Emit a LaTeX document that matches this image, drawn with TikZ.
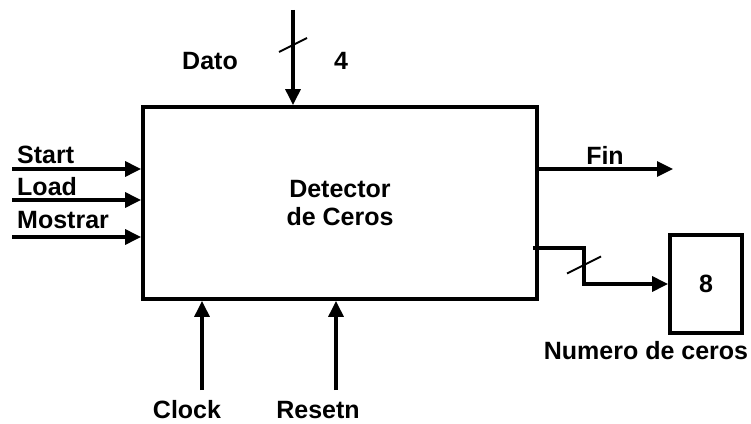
\documentclass[tikz,border=0pt]{standalone}
\usepackage{fontspec}
\setmainfont{Liberation Sans}
\usetikzlibrary{arrows.meta}

\begin{document}
\begin{tikzpicture}[x=1pt, y=1pt, line join=miter, >={Triangle[length=16pt,width=15pt]},
    wire/.style={line width=3.2pt},
    tick/.style={line width=1.8pt},
    lbl/.style={font=\bfseries\fontsize{25}{28}\selectfont, inner sep=0pt},
    blk/.style={draw, line width=3.8pt, inner sep=0pt}]
    \useasboundingbox (0,0) rectangle (751,423);

    % main block
    \node[blk, lbl, align=center, minimum width=394pt, minimum height=192pt] (det) at (340,220) {Detector\\de Ceros};

    % data input (4 bits)
    \coordinate (dato) at (293,413);
    \coordinate (datosl) at (293,378);
    \draw[wire, ->] (dato) -- (dato |- det.north);
    \draw[tick] (datosl) ++(-14,-7) -- ++(28,14);
    \node[lbl] (datolbl) at (210,362) {Dato};
    \node[lbl] (datoan) at (341,362) {4};

    % control inputs
    \coordinate (start) at (12,254);
    \coordinate (load) at (12,223);
    \coordinate (mostrar) at (12,186);
    \draw[wire, ->] (start) -- (start -| det.west);
    \draw[wire, ->] (load) -- (load -| det.west);
    \draw[wire, ->] (mostrar) -- (mostrar -| det.west);
    \node[lbl, anchor=west] (startlbl) at (17,268) {Start};
    \node[lbl, anchor=west] (loadlbl) at (17,236) {Load};
    \node[lbl, anchor=west] (mostrarlbl) at (17,203) {Mostrar};

    % outputs
    \coordinate (fin) at (673,254);
    \draw[wire, <-] (fin) -- (fin -| det.east);
    \node[lbl] (finlbl) at (605,268) {Fin};

    \node[blk, lbl, minimum width=72pt, minimum height=98pt] (cnt) at (706,139) {8};
    \node[lbl] (cntlbl) at (646,72) {Numero de ceros};
    \coordinate (cnt0) at (533,175);
    \coordinate (bend) at (584,175);
    \coordinate (cntsl) at (584,158);
    \draw[wire, ->] (cnt0) -- (bend) |- (cnt.west);
    \draw[tick] (cntsl) ++(-17,-8.5) -- ++(34,17);

    % clock and reset
    \coordinate (clk) at (202,33);
    \coordinate (rst) at (336,33);
    \draw[wire, ->] (clk) -- (clk |- det.south);
    \draw[wire, ->] (rst) -- (rst |- det.south);
    \node[lbl] (clklbl) at (187,13) {Clock};
    \node[lbl] (rstlbl) at (318,13) {Resetn};
\end{tikzpicture}
\end{document}
